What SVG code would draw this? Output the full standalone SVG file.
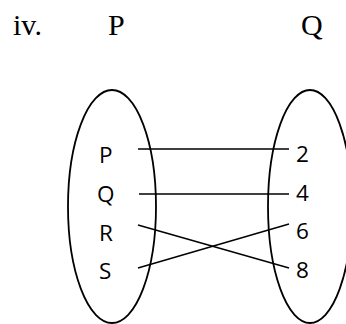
<svg xmlns="http://www.w3.org/2000/svg" width="346" height="324" viewBox="0 0 346 324">
<style>
.t{font-family:"Liberation Serif",serif;font-size:30px;fill:#000}
.s{font-family:"Open Sans","Liberation Sans",sans-serif;font-size:22.5px;fill:#000}
.e{fill:none;stroke:#000;stroke-width:1.8}
.c line{stroke:#000;stroke-width:1.4}
</style>
<rect width="346" height="324" fill="#fff"/>
<g id="title">
<text class="t" x="13" y="35">iv.</text>
<text class="t" x="108" y="35">P</text>
<text class="t" x="301" y="35">Q</text>
</g>
<g id="setP">
<ellipse class="e" cx="112" cy="206.5" rx="44" ry="116.5"/>
<text class="s" x="99" y="163">P</text>
<text class="s" x="97" y="202">Q</text>
<text class="s" x="99" y="241">R</text>
<text class="s" x="99" y="279">S</text>
</g>
<g id="setQ">
<ellipse class="e" cx="310" cy="206.5" rx="42" ry="116.5"/>
<text class="s" x="296" y="162">2</text>
<text class="s" x="296" y="201">4</text>
<text class="s" x="296" y="239">6</text>
<text class="s" x="296" y="278">8</text>
</g>
<g id="connectors" class="c">
<line x1="138" y1="149" x2="289" y2="149"/>
<line x1="139" y1="194" x2="289" y2="194"/>
<line x1="138" y1="225" x2="289" y2="268"/>
<line x1="138" y1="268" x2="289" y2="224"/>
</g>
</svg>
